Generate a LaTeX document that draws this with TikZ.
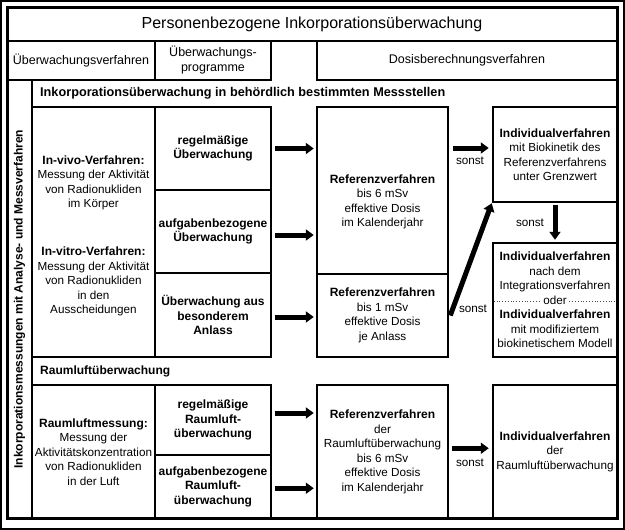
\documentclass[tikz,border=0pt]{standalone}
\usepackage{fontspec}
\setmainfont{Liberation Sans}
\usetikzlibrary{arrows.meta}
\newcommand{\rgf}{\fontsize{11.7}{14.5}\selectfont}
\newcommand{\bdf}{\fontsize{12}{14.5}\selectfont\bfseries}
\newcommand{\hdf}{\fontsize{12.5}{15}\selectfont}
\begin{document}
\begin{tikzpicture}[x=1pt,y=-1pt,
  box/.style={draw, line width=2.5pt, inner sep=0pt, align=center, font=\rgf},
  txt/.style={inner sep=0pt, align=center, font=\rgf},
  bigarrow/.style={line width=5pt, -{Triangle[length=8pt,width=11pt]}},
  lbl/.style={inner sep=0pt, font=\rgf}]
\useasboundingbox (0,0) rectangle (625,530);
% frames
\draw[line width=2pt] (1,1) rectangle (624,528.5);
\draw[line width=3pt] (7,7) rectangle (617,518.5);
% title and header row
\node[box, minimum width=610pt, minimum height=34pt] (title) at (312,24) {\fontsize{16}{18}\selectfont Personenbezogene Inkorporationsüberwachung};
\node[box, minimum width=148pt, minimum height=39pt, font=\hdf] (hverf) at (81,60.5) {Überwachungsverfahren};
\node[box, minimum width=116pt, minimum height=39pt, font=\hdf] (hprog) at (213,60.5) {Überwachungs-\\ \hdf programme};
\node[box, minimum width=300pt, minimum height=39pt, font=\hdf] (hdosis) at (467,60.5) {Dosisberechnungsverfahren};
% left strip
\node[box, minimum width=25pt, minimum height=438.5pt] (strip) at (19.5,299.25) {};
\node[rotate=90, inner sep=0pt, font=\bdf] (striptext) at (strip.center) {Inkorporationsmessungen mit Analyse- und Messverfahren};
% section headers
\node[anchor=west, inner sep=0pt, font=\fontsize{12.7}{15}\selectfont\bfseries] (sec1) at (40,93.5) {Inkorporationsüberwachung in behördlich bestimmten Messstellen};
\node[anchor=west, inner sep=0pt, font=\bdf] (sec2) at (40,371.5) {Raumluftüberwachung};
% section 1
\node[box, minimum width=123pt, minimum height=250pt] (left1) at (93.5,232) {};
\node[txt] (vivo) at (93.5,183) {\bdf In-vivo-Verfahren:\\ \rgf Messung der Aktivität\\ \rgf von Radionukliden\\ \rgf im Körper};
\node[txt] (vitro) at (93.5,281.5) {\bdf In-vitro-Verfahren:\\ \rgf Messung der Aktivität\\ \rgf von Radionukliden\\ \rgf in den\\ \rgf Ausscheidungen};
\node[box, minimum width=116pt, minimum height=83pt] (mid1a) at (213,148.5) {\bdf regelmäßige\\ \bdf Überwachung};
\node[box, minimum width=116pt, minimum height=83pt] (mid1b) at (213,231.5) {\bdf aufgabenbezogene\\ \bdf Überwachung};
\node[box, minimum width=116pt, minimum height=84pt] (mid1c) at (213,315) {\bdf Überwachung aus\\ \bdf besonderem\\ \bdf Anlass};
\node[box, minimum width=131pt, minimum height=167pt] (ref1) at (382.5,190.5) {};
\node[txt] (ref1t) at (382.5,202) {\bdf Referenzverfahren\\ \rgf bis 6 mSv\\ \rgf effektive Dosis\\ \rgf im Kalenderjahr};
\node[box, minimum width=131pt, minimum height=83pt] (ref2) at (382.5,315.5) {\bdf Referenzverfahren\\ \rgf bis 1 mSv\\ \rgf effektive Dosis\\ \rgf je Anlass};
\node[box, minimum width=124pt, minimum height=95pt] (ind1) at (555,154.5) {\bdf Individualverfahren\\ \rgf mit Biokinetik des\\ \rgf Referenzverfahrens\\ \rgf unter Grenzwert};
\node[box, minimum width=124pt, minimum height=114pt] (ind2) at (555,300) {\bdf Individualverfahren\\ \rgf nach dem\\ \rgf Integrationsverfahren\\ \rgf\phantom{oder}\\ \bdf Individualverfahren\\ \rgf mit modifiziertem\\ \rgf biokinetischem Modell};
\draw[black!70, dotted, line width=0.8pt] ([xshift=2pt,yshift=-1pt]ind2.west) -- ([xshift=-2pt,yshift=-1pt]ind2.east);
\node[lbl, fill=white, inner xsep=2pt] (oder) at (ind2.center) {oder};
% section 2
\node[box, minimum width=123pt, minimum height=133.5pt] (left2) at (93.5,451.75) {\bdf Raumluftmessung:\\ \rgf Messung der\\ \rgf Aktivitätskonzentration\\ \rgf von Radionukliden\\ \rgf in der Luft};
\node[box, minimum width=116pt, minimum height=70pt] (mid2a) at (213,420) {\bdf regelmäßige\\ \bdf Raumluft-\\ \bdf überwachung};
\node[box, minimum width=116pt, minimum height=63.5pt] (mid2b) at (213,486.75) {\bdf aufgabenbezogene\\ \bdf Raumluft-\\ \bdf überwachung};
\node[box, minimum width=131pt, minimum height=133.5pt] (ref3) at (382.5,451.75) {\bdf Referenzverfahren\\ \rgf der\\ \rgf Raumluftüberwachung\\ \rgf bis 6 mSv\\ \rgf effektive Dosis\\ \rgf im Kalenderjahr};
\node[box, minimum width=124pt, minimum height=133.5pt] (ind3) at (555,451.75) {\bdf Individualverfahren\\ \rgf der\\ \rgf Raumluftüberwachung};
% arrows
\draw[bigarrow] ([xshift=3pt]mid1a.east) -- ([xshift=-2pt]mid1a.east -| ref1.west);
\draw[bigarrow] ([xshift=3pt,yshift=-3.5pt]mid1b.east) -- ([xshift=-2pt,yshift=-3.5pt]mid1b.east -| ref1.west);
\draw[bigarrow] ([xshift=3pt,yshift=-2pt]mid1c.east) -- ([xshift=-2pt,yshift=-2pt]mid1c.east -| ref2.west);
\draw[bigarrow] ([xshift=3pt,yshift=7pt]mid2a.east) -- ([xshift=-2pt,yshift=7pt]mid2a.east -| ref3.west);
\draw[bigarrow] ([xshift=3pt,yshift=-1.5pt]mid2b.east) -- ([xshift=-2pt,yshift=-1.5pt]mid2b.east -| ref3.west);
\draw[bigarrow] ([xshift=3.5pt,yshift=6.5pt]ref1.east |- ind1.west) -- ([xshift=-3pt,yshift=6.5pt]ind1.west);
\draw[bigarrow] ([xshift=3pt,yshift=3.5pt]ref3.east |- ind3.west) -- ([xshift=-3pt,yshift=3.5pt]ind3.west);
\draw[bigarrow] ([yshift=-2pt]ind1.south) -- ([yshift=2pt]ind2.north);
\draw[bigarrow] ([xshift=1pt]ref2.east) -- (ind1.south west);
% sonst labels
\node[lbl] (s1) at (470,161) {sonst};
\node[lbl] (s2) at (530,223) {sonst};
\node[lbl] (s3) at (473,309) {sonst};
\node[lbl] (s4) at (470,463) {sonst};
\end{tikzpicture}
\end{document}
